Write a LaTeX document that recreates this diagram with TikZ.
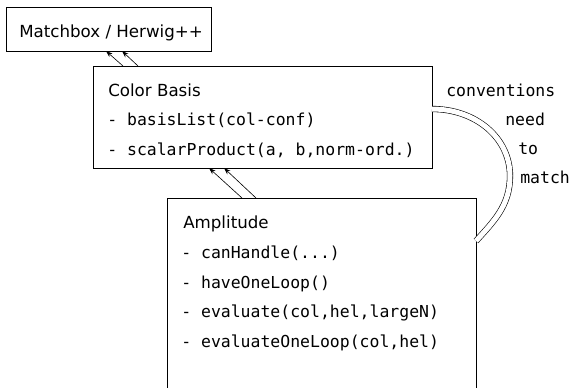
\documentclass[tikz,border=0pt]{standalone}
\usepackage{fontspec}
\setmainfont{DejaVu Sans}
\setmonofont{DejaVu Sans Mono}
\usetikzlibrary{arrows.meta}
\begin{document}
\begin{tikzpicture}[x=0.75pt, y=-0.75pt,
  box/.style={draw, line width=0.6pt, inner sep=0pt, outer sep=0pt, anchor=north west},
  lbl/.style={anchor=base west, inner sep=0pt, font=\fontsize{12.5}{14}\selectfont},
  code/.style={anchor=base west, inner sep=0pt, font=\fontsize{12.35}{14}\selectfont\ttfamily},
  arr/.style={line width=0.45pt, -{Stealth[length=5pt,width=3.5pt]}},
  link/.style={line width=0.45pt, double, double distance=3.75pt}]
\clip (0,0) rectangle (571,387);

% class boxes
\node[box, minimum width=153.75pt, minimum height=33pt] (mh) at (6,7) {};
\node[box, minimum width=254.25pt, minimum height=76.5pt] (cb) at (93,66) {};
\node[box, minimum width=231.75pt, minimum height=187.5pt] (amp) at (167,198) {};

% box contents
\node[lbl] (mhT) at (19,37) {Matchbox / Herwig++};

\node[lbl]  (cbT) at (108,96) {Color Basis};
\node[code] (cb1) at (107,125.5) {- basisList(col-conf)};
\node[code] (cb2) at (107,155) {- scalarProduct(a, b,norm-ord.)};

\node[lbl]  (ampT) at (183,228) {Amplitude};
\node[code] (amp1) at (181,258) {- canHandle(...)};
\node[code] (amp2) at (181,288) {- haveOneLoop()};
\node[code] (amp3) at (181,317.5) {- evaluate(col,hel,largeN)};
\node[code] (amp4) at (181,347) {- evaluateOneLoop(col,hel)};

% inheritance arrows
\draw[arr] ([xshift=22.5pt]cb.north west) -- ([xshift=75pt]mh.south west);
\draw[arr] ([xshift=33.75pt]cb.north west) -- ([xshift=87pt]mh.south west);
\draw[arr] ([xshift=56.25pt]amp.north west) -- ([xshift=87pt]cb.south west);
\draw[arr] ([xshift=66.75pt]amp.north west) -- ([xshift=98.25pt]cb.south west);

% convention link
\coordinate (bend) at (510,176);
\draw[link] ([yshift=-32.25pt]cb.north east)
  .. controls +(44,0) and +(0,-38) .. (bend)
  .. controls +(0,30) and +(17,-19) .. ([yshift=-32.25pt]amp.north east);
\node[code] (n1) at (446,96) {conventions};
\node[code] (n2) at (505,125) {need};
\node[code] (n3) at (518,154) {to};
\node[code] (n4) at (520,183) {match};
\end{tikzpicture}
\end{document}
